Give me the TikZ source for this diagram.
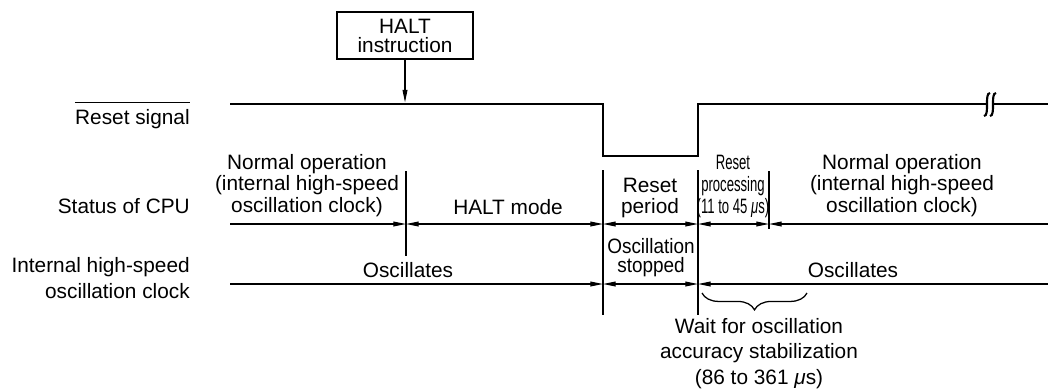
\documentclass[tikz,border=0pt]{standalone}
\usepackage{fontspec}
\setmainfont{Liberation Sans}
\newfontfamily\narrowfont[FakeStretch=0.63]{Liberation Sans}
\newfontfamily\semifont[FakeStretch=0.91]{Liberation Sans}
\usetikzlibrary{arrows.meta, decorations.pathreplacing}

\begin{document}
\begin{tikzpicture}[x=0.025cm, y=-0.025cm, >={Triangle[length=9pt, width=3.4pt]},
    txt/.style={inner sep=0pt, align=center, font=\fontsize{14.8}{15}\selectfont},
    thinline/.style={line width=0.9pt},
    sigline/.style={line width=2.1pt}]
    \useasboundingbox (0,0) rectangle (1048,390);

    %% labels on the left
    \node[txt, anchor=base east] (rs) at (190,124) {Reset signal};
    \draw[thinline] ([yshift=4.2pt]rs.north west) -- ([yshift=4.2pt]rs.north east);
    \node[txt, anchor=base east] (cpu) at (190,213) {Status of CPU};
    \node[txt, align=right, anchor=base east, font=\fontsize{14.8}{17.8}\selectfont] (clk) at (190,298)
      {Internal high-speed\\oscillation clock};

    %% HALT instruction
    \node[txt, draw, thinline, minimum width=3.4cm, minimum height=1.175cm,
      font=\fontsize{14.8}{13.5}\selectfont] (halt) at (405,35.5) {HALT\\instruction};
    \coordinate (hit) at (405,102.5);
    \draw[thinline, ->] (halt) -- (hit);

    %% Reset signal
    \draw[sigline] (230,104) -| (603,156) -| (698,104) -- (987,104);
    \draw[sigline] (993,104) -- (1048,104);
    % break mark
    \foreach \b in {987,993}
      \draw[line width=1.5pt] (\b+3,93) .. controls (\b-3,93) and (\b+3,116) .. (\b-3,116);

    %% time marks
    \foreach \n/\x in {a/230, b/406, c/603, d/698, e/769, f/1048} {
      \coordinate (s\n) at (\x,224);
      \coordinate (c\n) at (\x,284);
    }
    \draw[thinline] (406,171) -- (406,256);
    \draw[thinline] (603,170) -- (603,315);
    \draw[thinline] (698,170) -- (698,315);
    \draw[thinline] (769,171) -- (769,229);

    % status of CPU
    \draw[thinline, ->] (sa) -- (sb);
    \draw[thinline, <->] (sb) -- (sc);
    \draw[thinline, <->] (sc) -- (sd);
    \draw[thinline, <->] (sd) -- (se);
    \draw[thinline, <-] (se) -- (sf);
    \node[txt, anchor=base] (nop1) at (307,212) {Normal operation\\(internal high-speed\\oscillation clock)};
    \node[txt, anchor=base] (hmode) at (508,214) {HALT mode};
    \node[txt, anchor=base, font=\fontsize{14.8}{14.3}\selectfont] (rper) at (650,213) {Reset\\period};
    \node[txt, anchor=base, font=\narrowfont\fontsize{14.8}{15.6}\selectfont] (rproc) at (733,213)
      {Reset\\processing\\(11 to 45 {\itshape μ}s)};
    \node[txt, anchor=base] (nop2) at (902,212) {Normal operation\\(internal high-speed\\oscillation clock)};

    % internal high-speed oscillation clock
    \draw[thinline, ->] (ca) -- (cc);
    \draw[thinline, <->] (cc) -- (cd);
    \draw[thinline, <-] (cd) -- (cf);
    \node[txt, anchor=base] (osc1) at (408,277) {Oscillates};
    \node[txt, anchor=base, font=\semifont\fontsize{14.8}{13.5}\selectfont] (ostop) at (651,272) {Oscillation\\stopped};
    \node[txt, anchor=base] (osc2) at (853,277) {Oscillates};

    % wait for stabilization
    \coordinate (wl) at (702,293);
    \coordinate (wr) at (807,293);
    \draw[thinline, decorate, decoration={brace, mirror, amplitude=12pt}] (wl) -- (wr);
    \node[txt, anchor=base, font=\fontsize{14.8}{18}\selectfont] (wait) at (759,384)
      {Wait for oscillation\\accuracy stabilization\\(86 to 361 {\itshape μ}s)};

  \end{tikzpicture}
\end{document}
